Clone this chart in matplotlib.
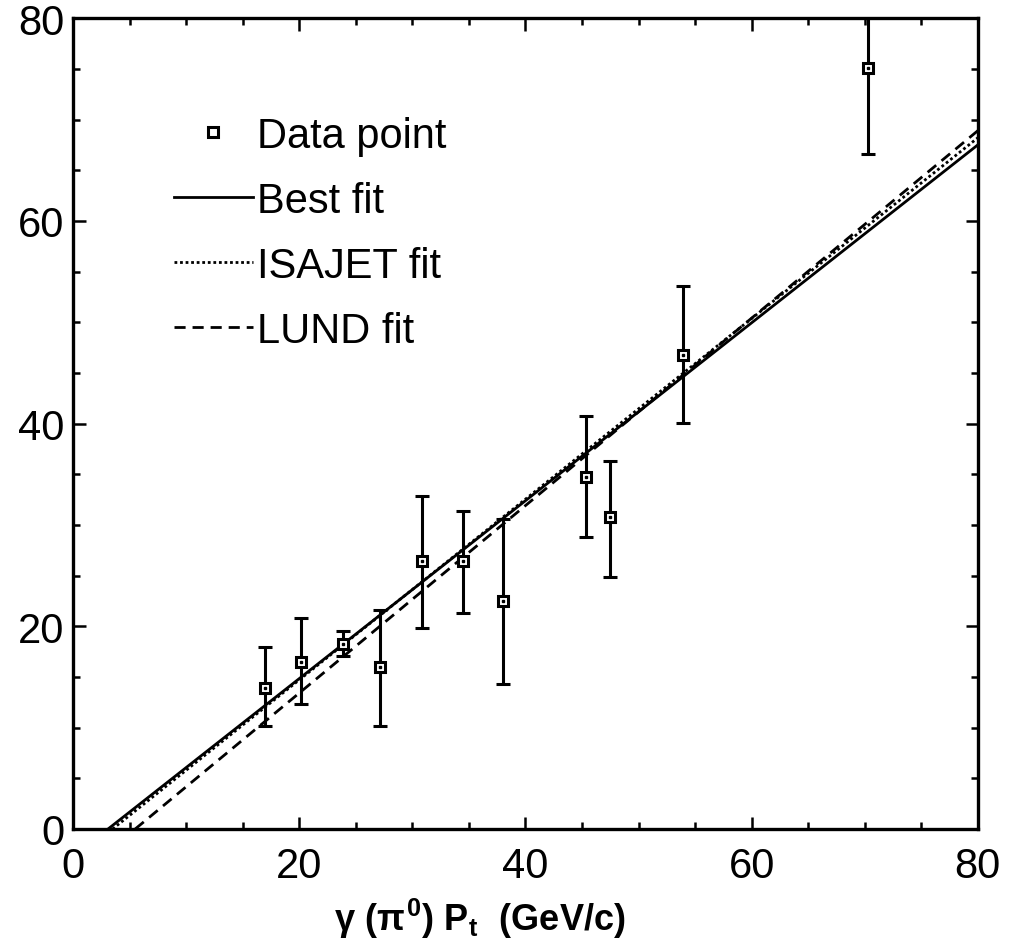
import matplotlib.pyplot as plt
from matplotlib.ticker import MultipleLocator

plt.rcParams['font.family'] = ['Liberation Sans', 'DejaVu Sans']
plt.rcParams['mathtext.fontset'] = 'custom'
plt.rcParams['mathtext.rm'] = 'Liberation Sans:bold'
plt.rcParams['mathtext.it'] = 'Liberation Sans:bold'
plt.rcParams['mathtext.bf'] = 'Liberation Sans:bold'

# data points
pt_x = [17.0, 20.2, 23.9, 27.1, 30.9, 34.5, 38.0, 45.4, 47.5, 53.9, 70.3]
pt_y = [13.9, 16.5, 18.3, 16.0, 26.4, 26.4, 22.5, 34.7, 30.8, 46.8, 75.1]
err_hi = [18.0, 20.8, 19.5, 21.6, 32.9, 31.4, 30.6, 40.7, 36.3, 53.6, 83.6]
err_lo = [10.2, 12.3, 17.1, 10.2, 19.8, 21.3, 14.3, 28.8, 24.9, 40.1, 66.6]

# fit lines (end points)
best_x = [3.1, 80]
best_y = [0, 67.5]
isajet_x = [3.5, 80]
isajet_y = [0, 68.2]
lund_x = [5.5, 80]
lund_y = [0, 68.9]

x_ticks = [0, 20, 40, 60, 80]
y_ticks = [0, 20, 40, 60, 80]

fig = plt.figure(figsize=(10.11, 9.45), dpi=100)
ax = fig.add_axes([0.0722, 0.1217, 0.895, 0.858])

yerr = [[y - lo for y, lo in zip(pt_y, err_lo)],
        [hi - y for y, hi in zip(pt_y, err_hi)]]
ax.errorbar(pt_x, pt_y, yerr=yerr, fmt='none', ecolor='black',
            elinewidth=2.2, capsize=5, capthick=2.2, zorder=3)
ax.plot(pt_x, pt_y, 's', ms=7, mfc='white', mec='black', mew=2.2,
        zorder=4, label='Data point')
ax.plot(pt_x, pt_y, 's', ms=1.6, color='black', zorder=5)

ax.plot(best_x, best_y, '-', color='black', lw=2, label='Best fit')
ax.plot(isajet_x, isajet_y, color='black', lw=2, linestyle=(0, (1, 1)),
        label='ISAJET fit')
ax.plot(lund_x, lund_y, color='black', lw=2, linestyle=(0, (4, 2.5)),
        label='LUND fit')

ax.set_xlim(0, 80)
ax.set_ylim(0, 80)
ax.set_xticks(x_ticks)
ax.set_yticks(y_ticks)
ax.xaxis.set_minor_locator(MultipleLocator(5))
ax.yaxis.set_minor_locator(MultipleLocator(5))
ax.tick_params(which='both', direction='in', top=True, right=True, width=1.8)
ax.tick_params(which='major', length=9)
ax.tick_params(which='minor', length=5)
ax.tick_params(axis='x', labelsize=30, pad=12)
ax.tick_params(axis='y', labelsize=30, pad=6)
for s in ax.spines.values():
    s.set_linewidth(2.4)

ax.set_xlabel(r'$\gamma\ (\pi^{0})\ P_{t}\ \ (GeV/c)$', fontsize=26)
ax.xaxis.set_label_coords(0.45, -0.083)

ax.legend(loc='upper left', bbox_to_anchor=(0.093, 0.9), frameon=False,
          fontsize=30, handlelength=1.9, handletextpad=0.1, labelspacing=0.6,
          borderaxespad=0)

fig.savefig('out.png', dpi=100)
